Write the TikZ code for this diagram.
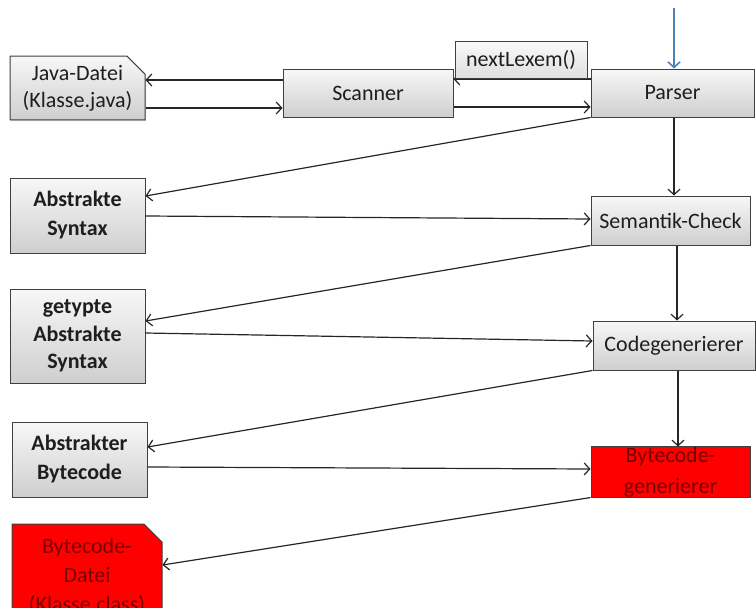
\documentclass[tikz,border=0pt]{standalone}
\usepackage{fontspec}
\setmainfont{Carlito}
\usetikzlibrary{arrows.meta,shapes.misc,shadows,calc}
\definecolor{boxline}{HTML}{404040}
\definecolor{txt}{HTML}{1E1E1E}
\definecolor{darkred}{HTML}{7A0000}
\definecolor{blueline}{HTML}{4F81BD}
\tikzset{
  gbox/.style={draw=boxline, line width=1pt, top color=gray!6, bottom color=gray!38,
    drop shadow={shadow xshift=1.2pt, shadow yshift=-1.2pt, opacity=0.35},
    text=txt, align=center, inner sep=0pt,
    font=\fontsize{22}{27}\selectfont},
  rbox/.style={draw=boxline, line width=1pt, fill=red, text=darkred, align=center, inner sep=0pt,
    font=\fontsize{22}{31}\selectfont},
  filebox/.style={chamfered rectangle, chamfered rectangle corners=north east,
    chamfered rectangle xsep=9pt, chamfered rectangle ysep=9pt},
  arr/.style={line width=1.2pt, draw=black!85, -{Straight Barb[length=5.5pt,width=12pt]}},
}
\begin{document}
\begin{tikzpicture}[x=1pt,y=-1pt]
\useasboundingbox (0,0) rectangle (756,608);
% left column
\node[gbox, filebox, minimum width=135pt, minimum height=60pt] (java) at (77.5,88) {Java-Datei\\(Klasse.java)};
\node[gbox, minimum width=135pt, minimum height=75pt, font=\fontsize{22}{29}\selectfont\bfseries] (abs) at (77.5,215.5) {Abstrakte\\Syntax};
\node[gbox, minimum width=135pt, minimum height=94pt, font=\fontsize{22}{27.5}\selectfont\bfseries] (typ) at (77.5,336) {getypte\\Abstrakte\\Syntax};
\node[gbox, minimum width=135pt, minimum height=75pt, font=\fontsize{22}{29}\selectfont\bfseries] (abb) at (79.5,459.5) {Abstrakter\\Bytecode};
\node[rbox, filebox, minimum width=150pt, minimum height=104pt, font=\fontsize{22}{29}\selectfont] (bdat) at (87,576) {Bytecode-\\Datei\\(Klasse.class)};
% scanner row
\node[gbox, minimum width=170pt, minimum height=48pt] (scan) at (368,93) {Scanner};
\node[gbox, minimum width=163pt, minimum height=48pt] (parser) at (672.5,93) {Parser};
% right column
\node[gbox, minimum width=159pt, minimum height=49pt] (sem) at (670.5,220.5) {Semantik-Check};
\node[gbox, minimum width=162pt, minimum height=49pt] (cg) at (674,345.5) {Codegenerierer};
\node[rbox, minimum width=159pt, minimum height=50pt] (bg) at (670.5,472) {Bytecode-\\generierer};
\coordinate (start) at (674,8);
% connectors
\draw[arr] (scan.west |- 0,80) -- (java.east |- 0,80);
\draw[arr] (java.east |- 0,108) -- (scan.west |- 0,108);
\draw[arr] (parser.west |- 0,79) -- (scan.east |- 0,79);
\draw[arr] (scan.east |- 0,107) -- (parser.west |- 0,107);
\node[gbox, top color=gray!4, bottom color=gray!25, minimum width=132pt, minimum height=37pt] (next) at (521,59.5) {nextLexem()};
\draw[arr, draw=blueline, line width=1.6pt] (start) -- (start |- parser.north);
\draw[arr] (parser.south west) -- (abs.east |- 0,196);
\draw[arr] (abs.east |- 0,216) -- (sem.west |- 0,219);
\draw[arr] (parser.south -| 674,0) -- (sem.north -| 674,0);
\draw[arr] (sem.south west) -- (typ.east |- 0,321);
\draw[arr] (typ.east |- 0,333) -- (cg.west |- 0,341);
\draw[arr] (sem.south -| 677,0) -- (cg.north -| 677,0);
\draw[arr] (cg.south west) -- (abb.east |- 0,447);
\draw[arr] (abb.east |- 0,467) -- (bg.west |- 0,469);
\draw[arr] (cg.south -| 678,0) -- (bg.north -| 678,0);
\draw[arr] (bg.south west) -- (bdat.east |- 0,565);
\end{tikzpicture}
\end{document}
